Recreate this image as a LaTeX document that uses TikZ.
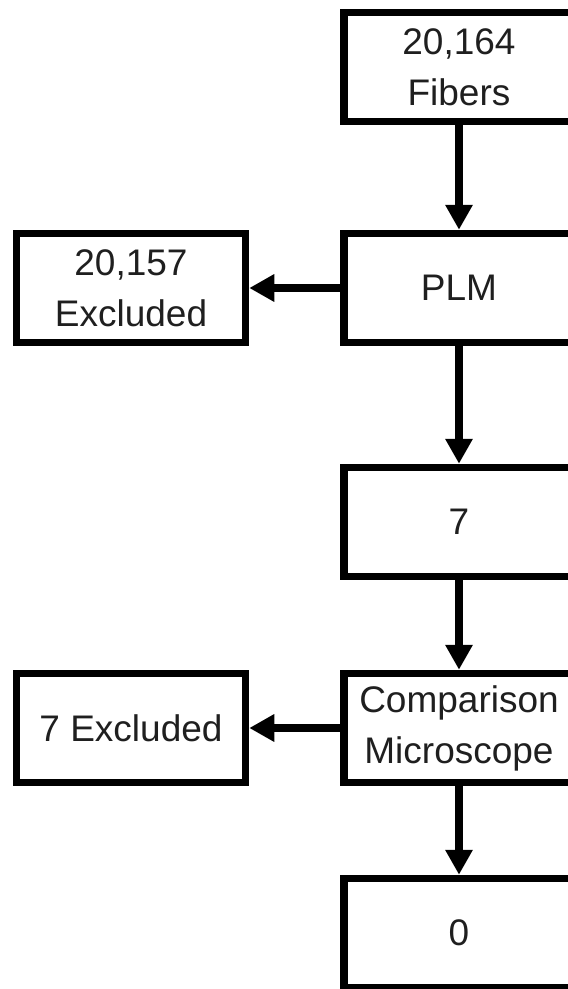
\documentclass[tikz,border=0pt]{standalone}
\usepackage{fontspec}
\setmainfont{Liberation Sans}
\usetikzlibrary{arrows.meta}

\tikzset{
  box/.style={draw=black, line width=7.5pt, fill=white, align=center,
    minimum width=230pt, minimum height=109pt, inner sep=0pt,
    font=\fontsize{37}{51}\selectfont, text=black!88},
  flow/.style={line width=7.5pt, -{Triangle[length=25pt,width=26pt]}}
}

\begin{document}
\begin{tikzpicture}[x=1pt,y=-1pt]
  \useasboundingbox (0,0) rectangle (568,989);
  \fill[white] (0,0) rectangle (568,989);
  \begin{scope}
    \clip (0,0) rectangle (568,989);
    % main column
    \node[box] (fibers) at (459,67)  {20,164\\Fibers};
    \node[box] (plm)    at (459,288) {PLM};
    \node[box] (seven)  at (459,522) {7};
    \node[box] (comp)   at (459,728) {Comparison\\Microscope};
    \node[box] (zero)   at (459,933) {0};
    % excluded branches
    \node[box, minimum width=229pt] (exa) at (131,288) {20,157\\Excluded};
    \node[box, minimum width=229pt] (exb) at (131,728) {7 Excluded};
    % connectors
    \draw[flow] (fibers.south) -- (plm.north);
    \draw[flow] (plm.south) -- (seven.north);
    \draw[flow] (seven.south) -- (comp.north);
    \draw[flow] (comp.south) -- (zero.north);
    \draw[flow] (plm.west) -- (exa.east);
    \draw[flow] (comp.west) -- (exb.east);
  \end{scope}
\end{tikzpicture}
\end{document}
